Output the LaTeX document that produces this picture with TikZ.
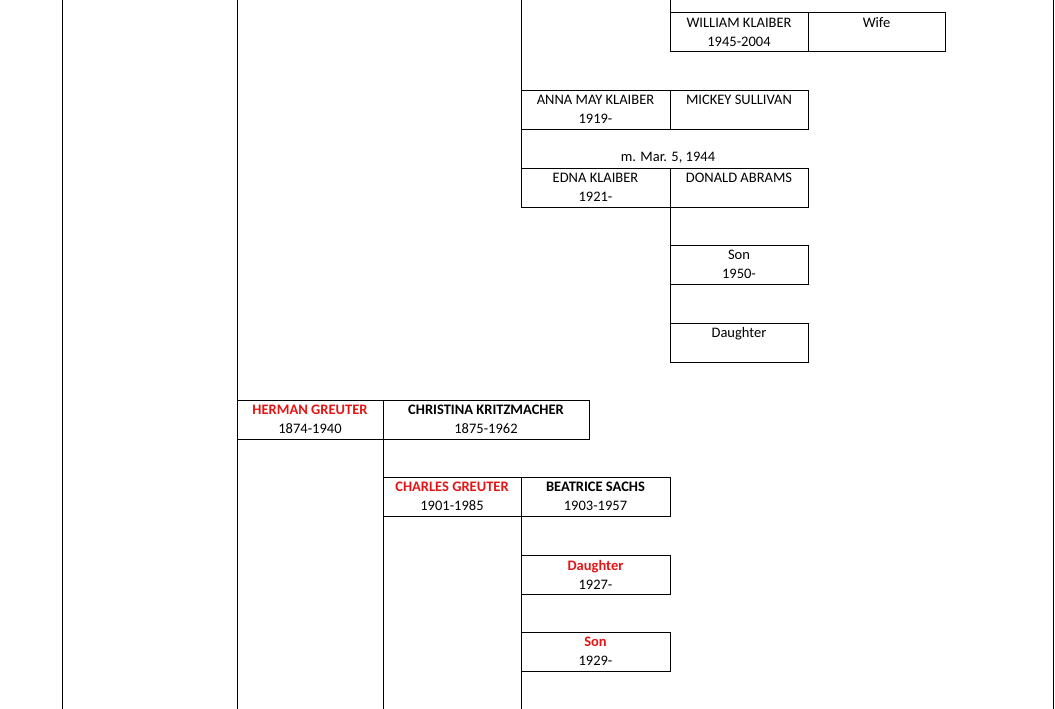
\documentclass[tikz,border=0pt]{standalone}
\usepackage{fontspec}
\setmainfont{Carlito}
\definecolor{custcol_red}{RGB}{230, 20, 20}
\tikzset{
  pbox/.style={draw, line width=1pt, anchor=north west, inner sep=0, outer sep=0,
    minimum height=39, align=center, font=\fontsize{14.5pt}{19pt}\selectfont},
  link/.style={line width=1pt},
}
\begin{document}
\begin{tikzpicture}[x=1pt,y=-1pt,line cap=rect]
\useasboundingbox (0,0) rectangle (1055,709);
% frame lines
\coordinate (topA) at (62,0);
\coordinate (botA) at (62,709);
\coordinate (topZ) at (1053,0);
\coordinate (botZ) at (1053,709);
\draw [link] (topA) -- (botA);
\draw [link] (topZ) -- (botZ);
% Klaiber branch
\node[pbox, minimum width=138] (william) at (670,13) {WILLIAM KLAIBER\\1945-2004};
\node[pbox, minimum width=137] (wifeW) at (808,13) {Wife\\\phantom{0}};
\node[pbox, minimum width=149] (anna) at (521,90) {ANNA MAY KLAIBER\\1919-};
\node[pbox, minimum width=138] (mickey) at (670,90) {MICKEY SULLIVAN\\\phantom{0}};
\node[pbox, minimum width=149] (edna) at (521,168) {EDNA KLAIBER\\1921-};
\node[pbox, minimum width=138] (donald) at (670,168) {DONALD ABRAMS\\\phantom{0}};
\node[font=\fontsize{14.5pt}{16pt}\selectfont] (marr) at (668,158) {m. Mar. 5, 1944};
\node[pbox, minimum width=138] (sonE) at (670,245) {Son\\1950-};
\node[pbox, minimum width=138] (daughterE) at (670,323) {Daughter\\\phantom{0}};
\coordinate (topB) at (237,0);
\coordinate (topC) at (521,0);
\coordinate (topD) at (670,0);
\draw [link] (topD) -- (william.north west);
\draw [link] (topC) -- (anna.north west);
\draw [link] (anna.south west) -- (edna.north west);
\draw [link] (edna.south east) -- (daughterE.north west);
% Greuter branch
\node[pbox, minimum width=146] (herman) at (237,400) {\textbf{\color{custcol_red}HERMAN GREUTER}\\1874-1940};
\node[pbox, minimum width=206] (christina) at (383,400) {\textbf{CHRISTINA KRITZMACHER}\\1875-1962};
\node[pbox, minimum width=138] (charles) at (383,477) {\textbf{\color{custcol_red}CHARLES GREUTER}\\1901-1985};
\node[pbox, minimum width=149] (beatrice) at (521,477) {\textbf{BEATRICE SACHS}\\1903-1957};
\node[pbox, minimum width=149] (daughterC) at (521,555) {\textbf{\color{custcol_red}Daughter}\\1927-};
\node[pbox, minimum width=149] (sonC) at (521,632) {\textbf{\color{custcol_red}Son}\\1929-};
\coordinate (botB) at (237,709);
\coordinate (botC) at (383,709);
\coordinate (botD) at (521,709);
\draw [link] (topB) -- (herman.north west);
\draw [link] (herman.south west) -- (botB);
\draw [link] (christina.south west) -- (charles.north west);
\draw [link] (charles.south west) -- (botC);
\draw [link] (beatrice.south west) -- (botD);
\end{tikzpicture}
\end{document}
